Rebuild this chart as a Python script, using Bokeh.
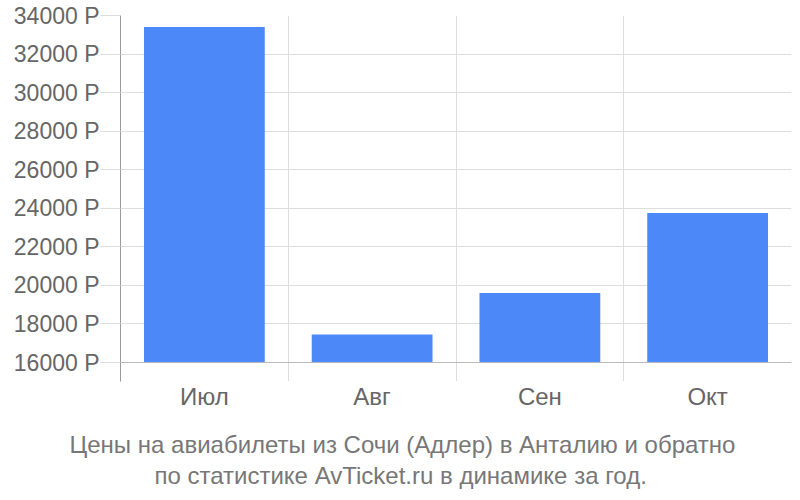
from bokeh.plotting import figure
from bokeh.models import FixedTicker, Span, Range1d, Title
from bokeh.embed import file_html
from bokeh.resources import INLINE

categories = ["Июл", "Авг", "Сен", "Окт"]
prices = [33400, 17450, 19600, 23750]
y_ticks = [16000, 18000, 20000, 22000, 24000, 26000, 28000, 30000, 32000, 34000]
title_lines = ["Цены на авиабилеты из Сочи (Адлер) в Анталию и обратно",
               "по статистике AvTicket.ru в динамике за год."]

FONT = "Liberation Sans"

p = figure(width=792, height=492, output_backend="svg", toolbar_location=None,
           x_range=Range1d(0, 4), y_range=Range1d(15015, 34000),
           min_border_left=120, min_border_right=1, min_border_top=15, min_border_bottom=111)
p.outline_line_color = None
p.background_fill_color = "white"
p.border_fill_color = "white"

xs = [i + 0.5 for i in range(len(categories))]
p.vbar(x=xs, top=prices, bottom=16000, width=0.72, fill_color="#4d88f9", line_color=None)

# x axis
p.xaxis.ticker = FixedTicker(ticks=xs)
p.xaxis.major_label_overrides = {x: c for x, c in zip(xs, categories)}
p.xaxis.axis_line_color = None
p.xaxis.major_tick_line_color = None
p.xaxis.minor_tick_line_color = None
p.xaxis.major_label_text_font = FONT
p.xaxis.major_label_text_font_size = "24px"
p.xaxis.major_label_text_color = "#666666"
p.xaxis.major_label_standoff = -5
# invisible spacer below the tick labels
p.xaxis.axis_label = " "
p.xaxis.axis_label_text_font_size = "1px"
p.xaxis.axis_label_standoff = 8

p.xgrid.ticker = FixedTicker(ticks=[1, 2, 3, 4])
p.xgrid.grid_line_color = "#dddddd"
p.xgrid.grid_line_width = 1

# y axis
p.yaxis.ticker = FixedTicker(ticks=y_ticks)
p.yaxis.major_label_overrides = {t: f"{t} Р" for t in y_ticks}
p.yaxis.axis_line_color = "#999999"
p.yaxis.major_tick_line_color = "#dddddd"
p.yaxis.major_tick_out = 20
p.yaxis.major_tick_in = 0
p.yaxis.minor_tick_line_color = None
p.yaxis.major_label_text_font = FONT
p.yaxis.major_label_text_font_size = "23px"
p.yaxis.major_label_text_color = "#666666"
p.yaxis.major_label_standoff = 1

p.ygrid.ticker = FixedTicker(ticks=y_ticks)
p.ygrid.grid_line_color = "#dddddd"
p.ygrid.grid_line_width = 1

p.add_layout(Span(location=16000, dimension="width", line_color="#bbbbbb", line_width=1))

offsets = [-51, 34]
standoffs = [8, -4]
for line, off, so in zip(title_lines, offsets, standoffs):
    t = Title(text=line, align="left", offset=off, standoff=so,
              text_font=FONT, text_font_size="24px", text_color="#777777",
              text_font_style="normal")
    p.add_layout(t, "below")

open("out.html", "w").write(file_html(p, INLINE))
